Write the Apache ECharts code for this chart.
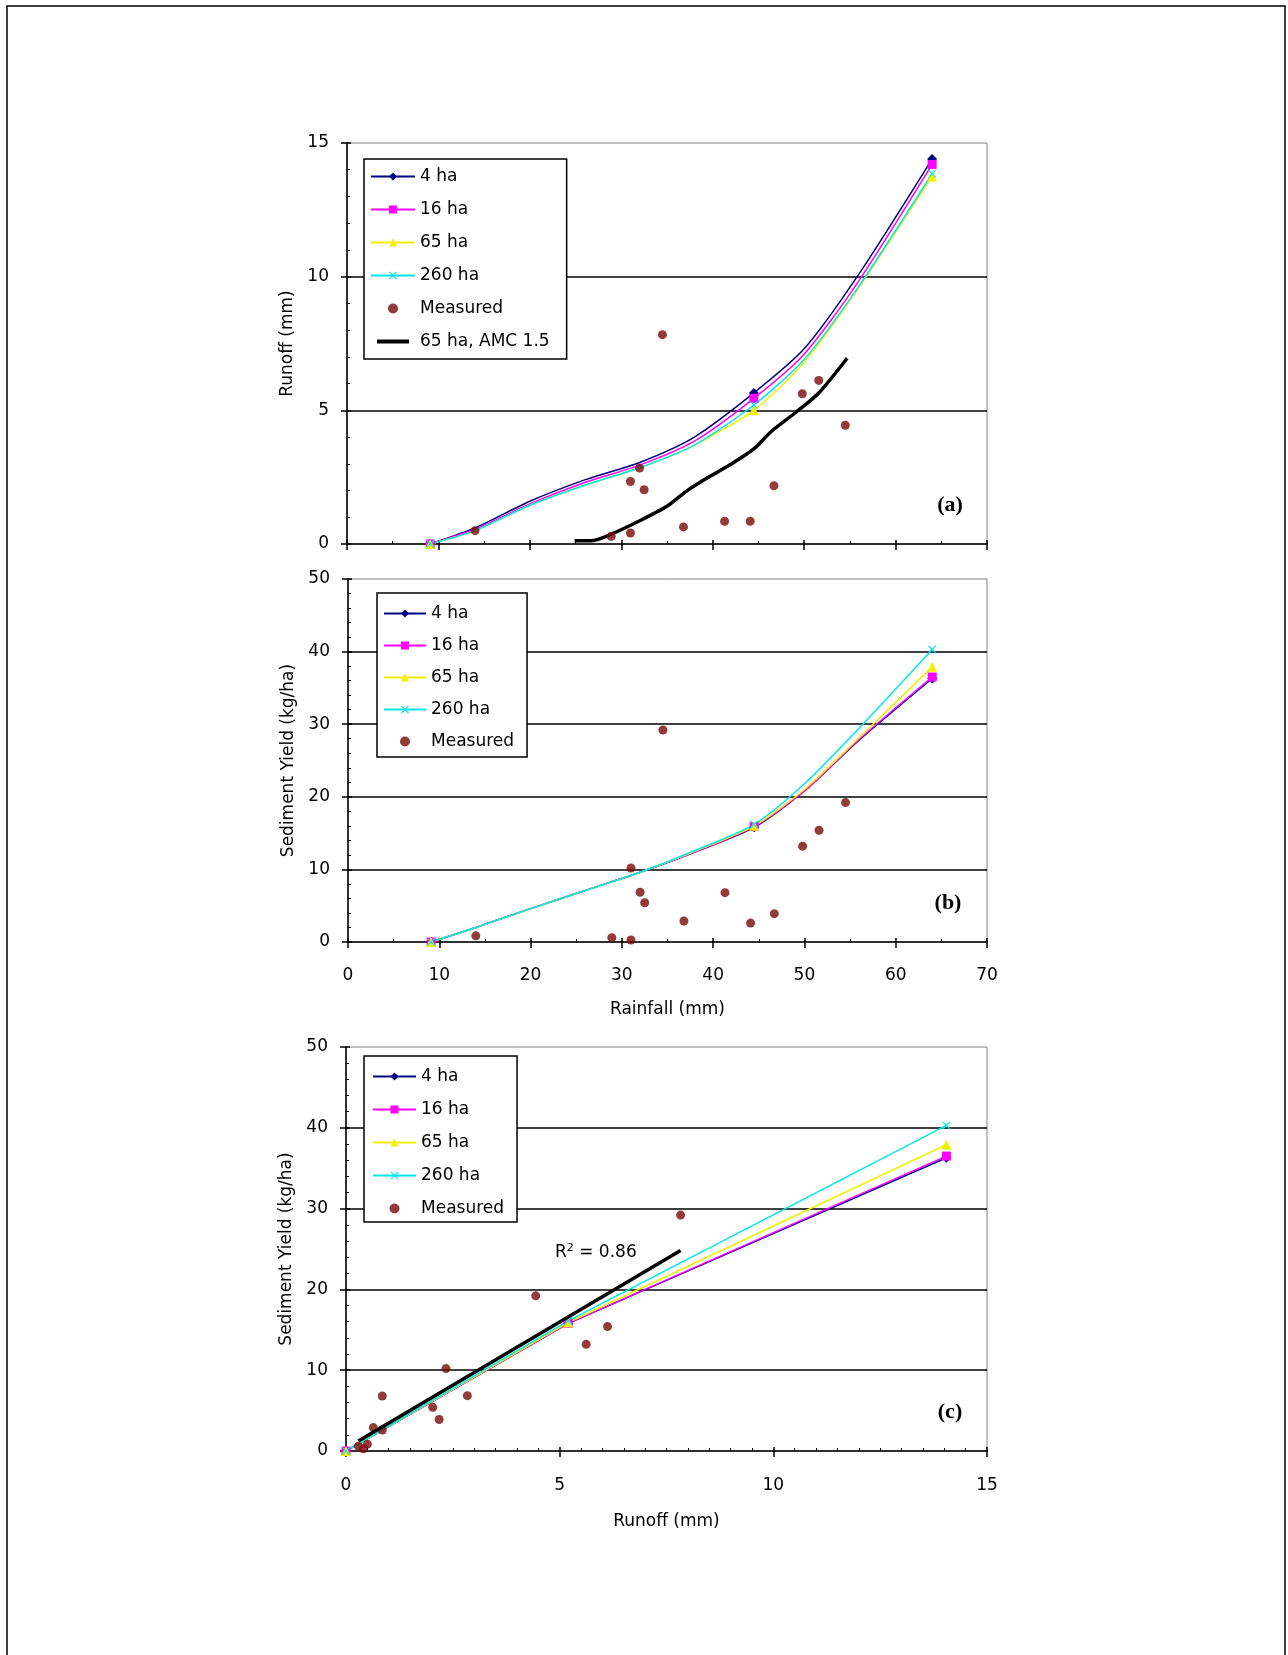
<!DOCTYPE html>
<html>
<head>
<meta charset="utf-8">
<title>Runoff and sediment yield</title>
<script src="https://cdn.jsdelivr.net/npm/echarts@6/dist/echarts.min.js"></script>
<style>
  html, body { margin: 0; padding: 0; background: #fff; }
  #chart { width: 1288px; height: 1655px; }
</style>
</head>
<body>
<div id="chart"></div>
<script>
// measured events (same storms in all three panels)
var rainfall = [14.0, 28.9, 31.0, 31.0, 32.0, 32.5, 34.5, 36.8, 41.3, 44.1, 46.7, 49.8, 51.6, 54.5];
var runoffMeasured = [0.50, 0.29, 2.34, 0.41, 2.84, 2.03, 7.83, 0.64, 0.85, 0.85, 2.18, 5.62, 6.12, 4.44];
var sedimentMeasured = [0.85, 0.60, 10.2, 0.28, 6.85, 5.40, 29.2, 2.90, 6.80, 2.60, 3.90, 13.2, 15.4, 19.2];

// model curves vs rainfall, panels (a) and (b)
var modelRain = [9.1, 14, 20, 26, 32, 38, 44.5, 50, 55.8, 64];
var markedRain = [0, 6, 9];
var runoff4 = [0, 0.6, 1.6, 2.4, 3.05, 4.0, 5.65, 7.3, 10.0, 14.4];
var runoff16 = [0, 0.55, 1.5, 2.3, 2.95, 3.85, 5.45, 7.1, 9.75, 14.2];
var runoff65 = [0, 0.5, 1.45, 2.2, 2.85, 3.7, 5.0, 6.8, 9.5, 13.75];
var runoff260 = [0, 0.5, 1.45, 2.2, 2.85, 3.7, 5.2, 6.9, 9.55, 13.85];
var sed4 = [0, 2.0, 4.6, 7.1, 9.6, 12.4, 15.8, 20.8, 27.6, 36.3];
var sed16 = [0, 2.0, 4.6, 7.1, 9.6, 12.4, 15.9, 20.8, 27.7, 36.5];
var sed65 = [0, 2.0, 4.6, 7.1, 9.6, 12.5, 16.0, 21.0, 27.9, 37.9];
var sed260 = [0, 2.0, 4.6, 7.1, 9.6, 12.6, 16.2, 21.8, 29.2, 40.3];

// 65 ha with AMC 1.5
var amcRain = [24.9, 26.7, 28.8, 31.9, 35.0, 37.1, 39.7, 42.2, 44.6, 46.4, 49.0, 51.6, 54.7];
var amcRunoff = [0.12, 0.12, 0.35, 0.85, 1.41, 1.97, 2.53, 3.03, 3.59, 4.21, 4.9, 5.65, 6.95];

// panel (c): model sediment vs model runoff
var modelRunoffC = [0, 5.2, 14.05];
var markedC = [0, 1, 2];
var sedC4 = [0, 15.8, 36.3];
var sedC16 = [0, 15.8, 36.5];
var sedC65 = [0, 15.9, 37.9];
var sedC260 = [0, 16.1, 40.3];

// linear fit of measured points (R2 = 0.86)
var trendX = [0.29, 7.83];
var trendY = [1.25, 24.8];

var FONT = 'DejaVu Sans';
var X_MARK = 'path://M0,1L1,0L5,4L9,0L10,1L6,5L10,9L9,10L5,6L1,10L0,9L4,5Z';
var AMC_ICON = 'path://M0,0M44,10M6,3H38V7H6Z';

function axes(dim, grid, min, max, interval, minorSplit, showLabels, labelMargin, name, nameGap) {
    var pos = dim === 'x' ? 'bottom' : 'left';
    var main = {
        type: 'value', gridIndex: grid, position: pos,
        min: min, max: max, interval: interval,
        axisLine: { show: true, onZero: false, lineStyle: { color: '#000', width: 1.5 } },
        axisTick: { show: true, inside: false, length: 6, lineStyle: { color: '#000', width: 1.5 } },
        minorTick: { show: false },
        axisLabel: { show: showLabels, margin: labelMargin, color: '#000', fontFamily: FONT, fontSize: 17 },
        splitLine: { show: false },
        name: name, nameLocation: 'middle', nameGap: nameGap,
        nameTextStyle: { color: '#000', fontFamily: FONT, fontSize: 17 }
    };
    var inner = {
        type: 'value', gridIndex: grid, position: pos,
        min: min, max: max, interval: interval,
        axisLine: { show: false, onZero: false },
        axisTick: { show: true, inside: true, length: 4, lineStyle: { color: '#000', width: 1.5 } },
        minorTick: { show: true, splitNumber: minorSplit, length: 3, lineStyle: { color: '#000', width: 1 } },
        axisLabel: { show: false },
        splitLine: dim === 'y'
            ? { show: true, showMinLine: false, showMaxLine: false, lineStyle: { color: '#000', width: 1.5 } }
            : { show: false }
    };
    return [main, inner];
}

function modelLine(name, color, symbol, size, xs, ys, marked, gi, smooth) {
    return {
        type: 'line', name: name,
        xAxisIndex: 2 * gi, yAxisIndex: 2 * gi,
        data: xs.map(function (x, i) {
            return marked.indexOf(i) >= 0 ? [x, ys[i]] : { value: [x, ys[i]], symbol: 'none' };
        }),
        symbol: symbol, symbolSize: size, showSymbol: true,
        smooth: smooth, color: color,
        lineStyle: { color: color, width: 1.5 },
        itemStyle: { color: color },
        z: 3, silent: true
    };
}

function measured(xs, ys, gi) {
    return {
        type: 'scatter', name: 'Measured',
        xAxisIndex: 2 * gi, yAxisIndex: 2 * gi,
        data: xs.map(function (x, i) { return [x, ys[i]]; }),
        symbol: 'circle', symbolSize: 9,
        itemStyle: { color: '#780a0a' },
        z: 4, silent: true
    };
}

function pairs(xs, ys) {
    return xs.map(function (x, i) { return [x, ys[i]]; });
}

var legendBase = {
    orient: 'vertical', itemWidth: 44, itemHeight: 10, itemGap: 16,
    borderColor: '#000', borderWidth: 1.5, backgroundColor: '#fff',
    textStyle: { fontFamily: FONT, fontSize: 17, color: '#000' },
    selectedMode: false
};
var baseNames = ['4 ha', '16 ha', '65 ha', '260 ha', { name: 'Measured', icon: 'circle' }];

var xa = axes('x', 0, 0, 70, 10, 2, false, 20, '', 0);
var ya = axes('y', 0, 0, 15, 5, 5, true, 18, 'Runoff (mm)', 51);
var xb = axes('x', 1, 0, 70, 10, 2, true, 25, 'Rainfall (mm)', 59);
var yb = axes('y', 1, 0, 50, 10, 5, true, 18, 'Sediment Yield (kg/ha)', 51);
var xc = axes('x', 2, 0, 15, 5, 10, true, 26, 'Runoff (mm)', 62);
var yc = axes('y', 2, 0, 50, 10, 5, true, 18, 'Sediment Yield (kg/ha)', 51);

var gridStyle = { show: true, backgroundColor: '#fff', borderColor: '#808080', borderWidth: 1 };

var chart = echarts.init(document.getElementById('chart'), null, { renderer: 'canvas' });
chart.setOption({
    animation: false,
    backgroundColor: '#fff',
    grid: [
        Object.assign({ left: 347, top: 143, width: 640, height: 401 }, gridStyle),
        Object.assign({ left: 348, top: 579, width: 639, height: 363 }, gridStyle),
        Object.assign({ left: 346, top: 1047, width: 641, height: 404 }, gridStyle)
    ],
    xAxis: xa.concat(xb, xc),
    yAxis: ya.concat(yb, yc),
    legend: [
        Object.assign({}, legendBase, {
            left: 364, top: 159, padding: [9, 17, 9, 6],
            data: baseNames.concat([{ name: '65 ha, AMC 1.5', icon: AMC_ICON }])
        }),
        Object.assign({}, legendBase, {
            left: 377, top: 593, itemWidth: 42, itemGap: 15, padding: [12, 13, 7, 6],
            data: baseNames
        }),
        Object.assign({}, legendBase, {
            left: 364, top: 1056, itemWidth: 43, padding: [12, 13, 5, 8],
            data: baseNames
        })
    ],
    graphic: [
        { type: 'rect', shape: { x: 7, y: 6, width: 1278, height: 1670 },
          style: { fill: 'none', stroke: '#000', lineWidth: 1.5 }, silent: true },
        { type: 'text', x: 950, y: 505,
          style: { text: '(a)', font: 'bold 22px "Liberation Serif"', fill: '#000', align: 'center', verticalAlign: 'middle' } },
        { type: 'text', x: 948, y: 903,
          style: { text: '(b)', font: 'bold 22px "Liberation Serif"', fill: '#000', align: 'center', verticalAlign: 'middle' } },
        { type: 'text', x: 950, y: 1412,
          style: { text: '(c)', font: 'bold 22px "Liberation Serif"', fill: '#000', align: 'center', verticalAlign: 'middle' } },
        { type: 'text', x: 555, y: 1253, z: 10,
          style: {
              text: 'R{s|2} = 0.86', fill: '#000', align: 'left', verticalAlign: 'middle',
              font: '17px "DejaVu Sans"',
              rich: { s: { fontSize: 11, fontFamily: FONT, padding: [0, 0, 9, 0] } }
          } }
    ],
    series: [
        // (a) runoff vs rainfall
        modelLine('4 ha', '#000080', 'diamond', 10, modelRain, runoff4, markedRain, 0, 0.25),
        modelLine('16 ha', '#ff00ff', 'rect', 9, modelRain, runoff16, markedRain, 0, 0.25),
        modelLine('65 ha', '#f0f000', 'triangle', 10, modelRain, runoff65, markedRain, 0, 0.25),
        modelLine('260 ha', '#00e8e8', X_MARK, 8, modelRain, runoff260, markedRain, 0, 0.25),
        measured(rainfall, runoffMeasured, 0),
        {
            type: 'line', name: '65 ha, AMC 1.5', xAxisIndex: 0, yAxisIndex: 0,
            data: pairs(amcRain, amcRunoff), symbol: 'none', color: '#000',
            smooth: 0.25,
            lineStyle: { color: '#000', width: 3.5 }, z: 3, silent: true
        },
        // (b) sediment yield vs rainfall
        modelLine('4 ha', '#000080', 'diamond', 10, modelRain, sed4, markedRain, 1, 0.25),
        modelLine('16 ha', '#ff00ff', 'rect', 9, modelRain, sed16, markedRain, 1, 0.25),
        modelLine('65 ha', '#f0f000', 'triangle', 10, modelRain, sed65, markedRain, 1, 0.25),
        modelLine('260 ha', '#00e8e8', X_MARK, 8, modelRain, sed260, markedRain, 1, 0.25),
        measured(rainfall, sedimentMeasured, 1),
        // (c) sediment yield vs runoff
        modelLine('4 ha', '#000080', 'diamond', 10, modelRunoffC, sedC4, markedC, 2, false),
        modelLine('16 ha', '#ff00ff', 'rect', 9, modelRunoffC, sedC16, markedC, 2, false),
        modelLine('65 ha', '#f0f000', 'triangle', 10, modelRunoffC, sedC65, markedC, 2, false),
        modelLine('260 ha', '#00e8e8', X_MARK, 8, modelRunoffC, sedC260, markedC, 2, false),
        measured(runoffMeasured, sedimentMeasured, 2),
        {
            type: 'line', name: 'Linear (Measured)', xAxisIndex: 4, yAxisIndex: 4,
            data: pairs(trendX, trendY), symbol: 'none', color: '#000',
            lineStyle: { color: '#000', width: 3.5 }, z: 5, silent: true
        }
    ]
});
</script>
</body>
</html>
